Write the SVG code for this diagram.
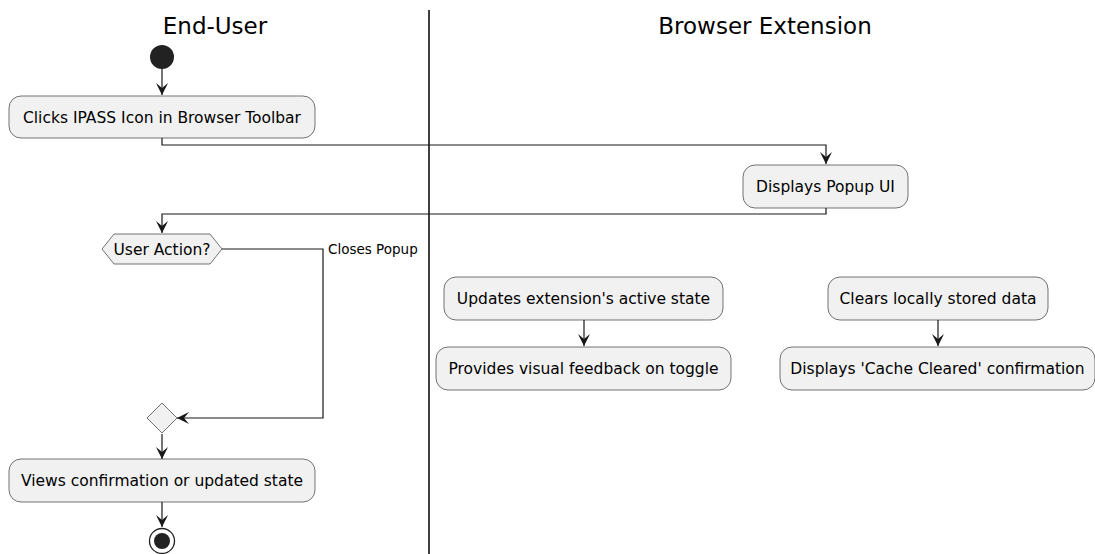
<svg xmlns="http://www.w3.org/2000/svg" width="1095" height="554" viewBox="0 0 1095 554">
  <defs>
    <style>
      .lane { font-family: "DejaVu Sans", Verdana, sans-serif; font-size: 23px; fill: #000; text-anchor: middle; }
      .lbl { font-family: "DejaVu Sans", Verdana, sans-serif; font-size: 15.5px; fill: #000; text-anchor: middle; }
      .note { font-family: "DejaVu Sans", Verdana, sans-serif; font-size: 13.5px; fill: #000; }
      .act { fill: #F1F1F1; stroke: #181818; stroke-width: 0.6; }
      .edge { fill: none; stroke: #181818; stroke-width: 1.2; marker-end: url(#arrow); }
    </style>
    <marker id="arrow" viewBox="0 0 13 12" refX="12" refY="6" markerWidth="13" markerHeight="12" markerUnits="userSpaceOnUse" orient="auto">
      <path d="M0,0 L12,6 L0,12 L5,6 Z" fill="#181818"/>
    </marker>
  </defs>
  <rect width="1095" height="554" fill="#FFFFFF"/>

  <!-- swimlanes -->
  <g id="lanes">
    <text class="lane" x="215" y="34">End-User</text>
    <text class="lane" x="765" y="34">Browser Extension</text>
    <line x1="429" y1="10" x2="429" y2="554" stroke="#000" stroke-width="1.5"/>
  </g>

  <!-- connectors -->
  <g id="connectors">
    <path class="edge" d="M162,69 L162,95"/>
    <path class="edge" d="M162,138 L162,145 L826,145 L826,164"/>
    <path class="edge" d="M826,208 L826,214 L162,214 L162,233"/>
    <path class="edge" d="M222,249 L323,249 L323,418 L177,418"/>
    <path class="edge" d="M162,434 L162,459"/>
    <path class="edge" d="M162,502 L162,527"/>
    <path class="edge" d="M584,320 L584,346"/>
    <path class="edge" d="M938,320 L938,346"/>
    <text class="note" x="328" y="254">Closes Popup</text>
  </g>

  <g id="start">
    <circle cx="162" cy="57" r="12" fill="#222222"/>
  </g>

  <g id="clicks-icon">
    <rect class="act" x="9" y="96" width="306" height="42" rx="12"/>
    <text class="lbl" x="162" y="123">Clicks IPASS Icon in Browser Toolbar</text>
  </g>

  <g id="displays-popup">
    <rect class="act" x="743" y="165" width="165" height="43" rx="12"/>
    <text class="lbl" x="825.5" y="192">Displays Popup UI</text>
  </g>

  <g id="user-action">
    <polygon class="act" points="102,249 114,234 210,234 222,249 210,264 114,264"/>
    <text class="lbl" x="162" y="255">User Action?</text>
  </g>

  <g id="merge">
    <polygon class="act" points="162,403 177,418 162,433 147,418"/>
  </g>

  <g id="views-confirmation">
    <rect class="act" x="9" y="459" width="306" height="43" rx="12"/>
    <text class="lbl" x="162" y="486">Views confirmation or updated state</text>
  </g>

  <g id="stop">
    <circle cx="162" cy="541" r="12.5" fill="none" stroke="#222222" stroke-width="1.3"/>
    <circle cx="162" cy="541" r="8" fill="#222222"/>
  </g>

  <g id="updates-state">
    <rect class="act" x="444" y="277" width="279" height="43" rx="12"/>
    <text class="lbl" x="583.5" y="304">Updates extension's active state</text>
  </g>

  <g id="visual-feedback">
    <rect class="act" x="436" y="347" width="295" height="43" rx="12"/>
    <text class="lbl" x="583.5" y="374">Provides visual feedback on toggle</text>
  </g>

  <g id="clears-data">
    <rect class="act" x="828" y="277" width="220" height="43" rx="12"/>
    <text class="lbl" x="938" y="304">Clears locally stored data</text>
  </g>

  <g id="cache-cleared">
    <rect class="act" x="780" y="347" width="315" height="43" rx="12"/>
    <text class="lbl" x="937.5" y="374">Displays 'Cache Cleared' confirmation</text>
  </g>
</svg>
